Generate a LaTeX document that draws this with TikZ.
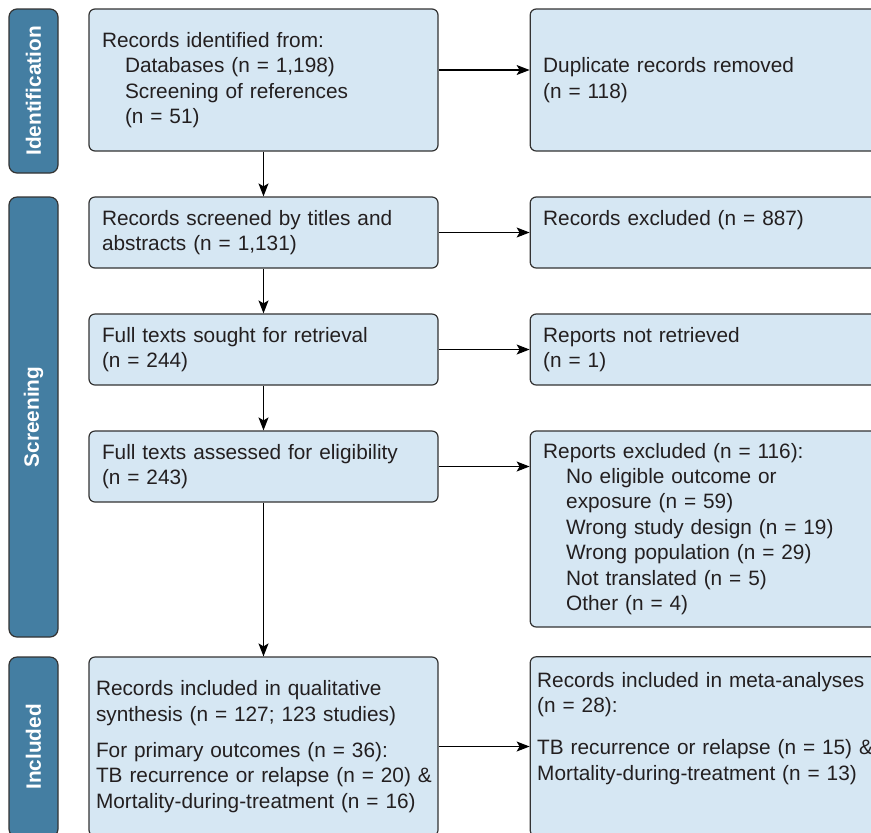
\documentclass[tikz,border=0pt]{standalone}
\usepackage{fontspec}
\setmainfont{Liberation Sans}
\usepackage{xcolor}
\usepackage{tikz}
\usetikzlibrary{shapes,arrows.meta,positioning}
\definecolor{boxfill}{RGB}{214,231,243}
\definecolor{boxline}{RGB}{51,51,51}
\definecolor{stagefill}{RGB}{68,126,162}
\definecolor{textgray}{RGB}{35,31,32}
\tikzstyle{block} = [rectangle, draw=boxline, line width=0.6pt, fill=boxfill,
    text=textgray, text width=161.5pt, align=left, inner xsep=6.5pt,
    rounded corners=3pt, font=\fontsize{10.4pt}{12.7pt}\selectfont]
\tikzstyle{stage} = [rectangle, draw=boxline, line width=0.6pt, fill=stagefill,
    text=white, rotate=90, minimum height=24.5pt, inner sep=0pt,
    rounded corners=4pt, font=\fontsize{10.4pt}{12.7pt}\selectfont\bfseries]
\tikzstyle{line} = [draw, line width=0.6pt, -{Stealth[length=6.5pt,width=5pt,inset=1.5pt]}]
\newcommand{\ind}{\hspace*{11.5pt}}

\begin{document}
\begin{tikzpicture}
        \useasboundingbox (0,0) rectangle (435.5pt,-416pt);

        % Stages
        \node [stage, minimum width=82pt] (idstage) at (16.75pt,-45.5pt) {Identification};
        \node [stage, minimum width=220pt] (scrstage) at (16.75pt,-208.5pt) {Screening};
        \node [stage, minimum width=90pt] (incstage) at (16.75pt,-373.5pt) {Included};

        % Main column
        \node [block, minimum height=71pt, anchor=north west] (ident) at (44.2pt,-4.2pt)
            {Records identified from:\\\ind Databases (n = 1,198)\\\ind Screening of references\\\ind (n = 51)};
        \node [block, minimum height=35.5pt, below=22.4pt of ident] (screened)
            {Records screened by titles and\\abstracts (n = 1,131)};
        \node [block, minimum height=35.5pt, below=22.4pt of screened] (sought)
            {Full texts sought for retrieval\\(n = 244)};
        \node [block, minimum height=35.5pt, below=22.4pt of sought] (assessed)
            {Full texts assessed for eligibility\\(n = 243)};
        \node [block, minimum height=89.5pt, inner xsep=3.5pt, text width=167.5pt,
            below=76.9pt of assessed] (qual)
            {Records included in qualitative\\synthesis (n = 127; 123 studies)\\[5.5pt]
             For primary outcomes (n = 36):\\\mbox{TB recurrence or relapse (n = 20) \&}\\
             Mortality-during-treatment (n = 16)};

        % Side column
        \node [block, minimum height=71pt, right=45.5pt of ident] (dup)
            {Duplicate records removed\\(n = 118)};
        \node [block, minimum height=35.5pt, text depth=14.9pt, right=45.5pt of screened] (excl)
            {Records excluded (n = 887)};
        \node [block, minimum height=35.5pt, right=45.5pt of sought] (notret)
            {Reports not retrieved\\(n = 1)};
        \node [block, minimum height=98pt, right=45.5pt of assessed.north east,
            anchor=north west] (repexcl)
            {Reports excluded (n = 116):\\\ind No eligible outcome or\\\ind exposure (n = 59)\\
             \ind Wrong study design (n = 19)\\\ind Wrong population (n = 29)\\
             \ind Not translated (n = 5)\\\ind Other (n = 4)};
        \node [block, inner xsep=3.5pt, inner ysep=7.6pt, text width=167.5pt,
            text depth=67pt, right=45.5pt of qual] (meta)
            {Records included in meta-analyses\\(n = 28):\\[8.5pt]
             \mbox{TB recurrence or relapse (n = 15) \&}\\Mortality-during-treatment (n = 13)};

        % Connections
        \coordinate (idout) at ([yshift=5pt]ident.east);
        \path [line] (ident) -- (screened);
        \path [line] (screened) -- (sought);
        \path [line] (sought) -- (assessed);
        \path [line] (assessed) -- (qual);
        \path [line] (idout) -- (idout -| dup.west);
        \path [line] (screened) -- (excl);
        \path [line] (sought) -- (notret);
        \path [line] (assessed) -- (assessed -| repexcl.west);
        \path [line] (qual) -- (meta);
    \end{tikzpicture}
\end{document}
